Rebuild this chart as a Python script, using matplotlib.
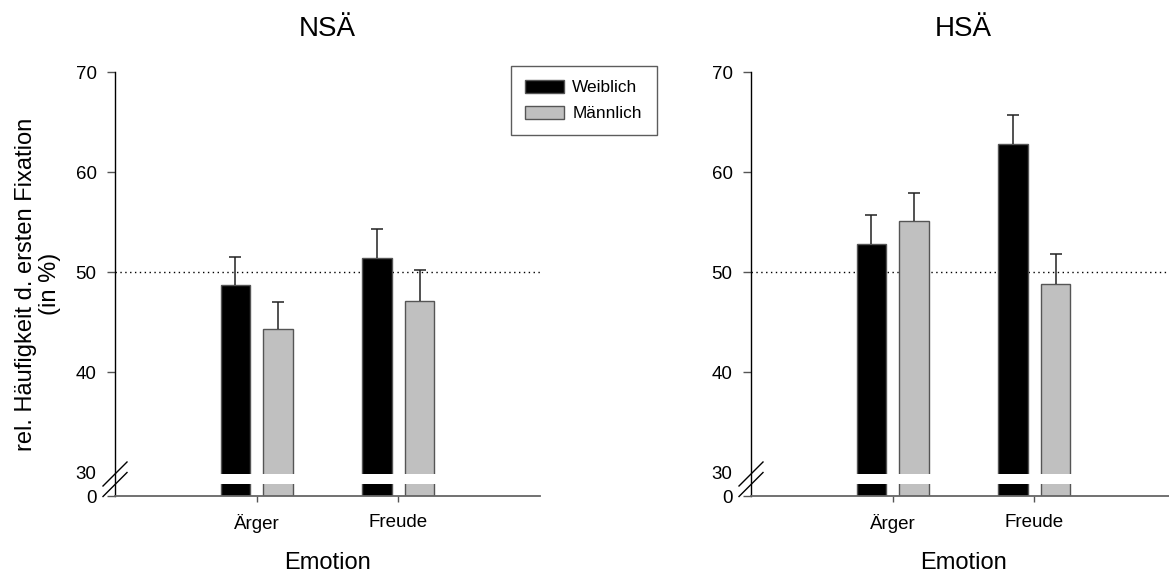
import numpy as np
import matplotlib
matplotlib.use("Agg")
import matplotlib.pyplot as plt
from matplotlib.patches import Patch

plt.rcParams['font.family'] = ['Liberation Sans', 'DejaVu Sans']

# Mittelwerte und Standardfehler (rel. Häufigkeit der ersten Fixation, in %)
emotionen = ['Ärger', 'Freude']
gruppen = ['NSÄ', 'HSÄ']
weiblich = {'NSÄ': [48.7, 51.4], 'HSÄ': [52.8, 62.8]}
maennlich = {'NSÄ': [44.3, 47.1], 'HSÄ': [55.1, 48.8]}
weiblich_se = {'NSÄ': [2.8, 2.9], 'HSÄ': [2.9, 2.9]}
maennlich_se = {'NSÄ': [2.7, 3.1], 'HSÄ': [2.8, 3.0]}
yticks = [0, 30, 40, 50, 60, 70]


# gebrochene y-Achse: 0-30 wird auf einen schmalen Streifen gestaucht
def fwd(v):
    v = np.asarray(v, dtype=float)
    return np.where(v >= 30, v, 27.6 + v * 0.08)


def inv(y):
    y = np.asarray(y, dtype=float)
    return np.where(y >= 30, y, (y - 27.6) / 0.08)


def fehlerbalken(ax, xs, ys, se):
    # nur nach oben, ohne unteren Querstrich
    _, caps, _ = ax.errorbar(xs, ys, yerr=[np.zeros(len(ys)), se], fmt='none',
                             ecolor='#222222', elinewidth=1.1, capsize=4.3,
                             capthick=1.1, zorder=3)
    caps[0].set_visible(False)


W, H = 1169, 576
fig = plt.figure(figsize=(W / 100, H / 100), dpi=100)

x = np.arange(1, len(emotionen) + 1)
bw = 0.21
links = [115, 751]

for i, g in enumerate(gruppen):
    ax = fig.add_axes([links[i] / W, (H - 496) / H, 425 / W, 424 / H])
    ax.set_yscale('function', functions=(fwd, inv))

    ax.bar(x - 0.15, weiblich[g], bw, color='black', edgecolor='#555555',
           linewidth=1, zorder=1)
    ax.bar(x + 0.15, maennlich[g], bw, color='#c0c0c0', edgecolor='#555555',
           linewidth=1, zorder=1)
    fehlerbalken(ax, x - 0.15, weiblich[g], weiblich_se[g])
    fehlerbalken(ax, x + 0.15, maennlich[g], maennlich_se[g])

    # Unterbrechung der Balken
    ax.axhspan(15, 27.5, color='white', lw=0, zorder=2)
    # Zufallsniveau
    ax.axhline(50, color='black', linestyle=(0, (1, 2.5)), linewidth=1, zorder=0)

    ax.set_xlim(0, 3)
    ax.set_ylim(0, 70)
    ax.set_yticks(yticks)
    ax.set_yticklabels([str(t) for t in yticks])
    ax.set_xticks(x)
    ax.set_xticklabels(emotionen)
    ax.yaxis.get_major_ticks()[1].tick1line.set_visible(False)

    ax.spines['top'].set_visible(False)
    ax.spines['right'].set_visible(False)
    ax.spines['left'].set_color('black')
    ax.spines['left'].set_linewidth(1)
    ax.spines['bottom'].set_color('#666666')
    ax.spines['bottom'].set_linewidth(1.3)

    ax.tick_params(axis='y', length=5.8, width=1, color='#555555', pad=7.5,
                   labelsize=13.5)
    ax.tick_params(axis='x', length=4.3, width=1, color='#555555', pad=9,
                   labelsize=13.5)

    ax.set_title(g, fontsize=20, pad=26)
    ax.set_xlabel('Emotion', fontsize=17, labelpad=13)

    # Bruchzeichen an der y-Achse
    dx, dy = 12 / 425, 12 / 424
    for yc in [22 / 424, 11.5 / 424]:
        ax.plot([-dx, dx], [yc - dy, yc + dy], color='black', lw=1,
                transform=ax.transAxes, clip_on=False, zorder=5)

fig.text(38 / W, 1 - 284 / H, 'rel. Häufigkeit d. ersten Fixation\n(in %)',
         rotation=90, ha='center', va='center', fontsize=17, linespacing=1.1)

handles = [Patch(facecolor='black', edgecolor='#555555', lw=1),
           Patch(facecolor='#c0c0c0', edgecolor='#555555', lw=1)]
leg = fig.legend(handles, ['Weiblich', 'Männlich'], loc='upper left',
                 bbox_to_anchor=(511 / W, 1 - 66 / H, 146 / W, 0),
                 bbox_transform=fig.transFigure, mode='expand',
                 borderaxespad=0, fontsize=12.4, frameon=True, fancybox=False,
                 handlelength=2.25, handleheight=0.8, handletextpad=0.5,
                 borderpad=0.8, labelspacing=0.6)
leg.get_frame().set_edgecolor('#333333')
leg.get_frame().set_linewidth(1)

fig.savefig('out.png', dpi=100)
